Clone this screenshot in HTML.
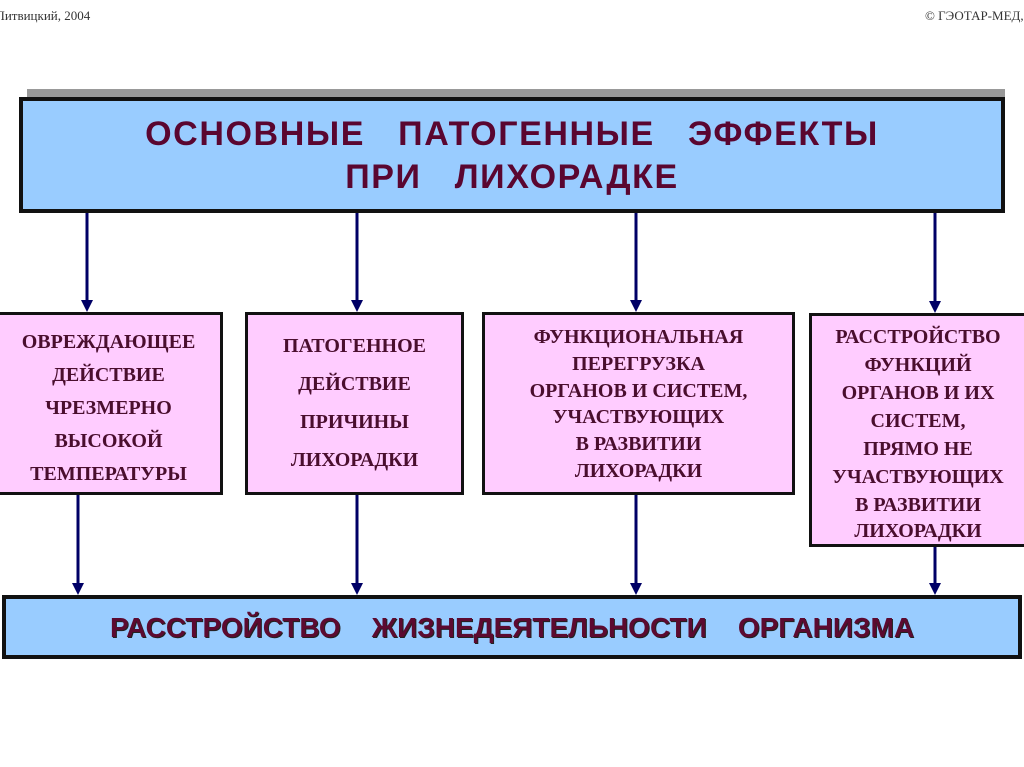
<!DOCTYPE html>
<html><head><meta charset="utf-8"><style>
body{margin:0;width:1024px;height:767px;background:#fff;position:relative;overflow:hidden;font-family:"Liberation Serif",serif}
.b{position:absolute;box-sizing:border-box;border:3px solid #111}
.p{background:#ffccff}
.l{position:absolute;left:0;right:0;text-align:center;font-weight:bold;font-size:20px;color:#4a0e2e;line-height:20px;white-space:nowrap;letter-spacing:0px}
.s{font-family:"Liberation Sans",sans-serif;font-weight:bold;color:#5c0a30;position:absolute;left:0;right:0;text-align:center;white-space:nowrap}
</style></head><body>
<div style="position:absolute;left:-4px;top:8px;font-size:13px;color:#333">Литвицкий, 2004</div>
<div style="position:absolute;left:925px;top:8px;font-size:13px;color:#333;white-space:nowrap">© ГЭОТАР-МЕД, 2004</div>

<div style="position:absolute;left:27px;top:89px;width:978px;height:10px;background:#999"></div>
<div class="b" style="left:19px;top:97px;width:986px;height:116px;background:#99ccff;border-width:4px">
 <div class="s" style="top:14px;font-size:34px;letter-spacing:1.6px;color:#5a0630">ОСНОВНЫЕ&nbsp;&nbsp; ПАТОГЕННЫЕ&nbsp;&nbsp; ЭФФЕКТЫ</div>
 <div class="s" style="top:57px;font-size:34px;letter-spacing:1.6px;color:#5a0630">ПРИ&nbsp;&nbsp; ЛИХОРАДКЕ</div>
</div>

<div class="b p" style="left:-6px;top:312px;width:229px;height:183px">
 <div class="l" style="top:17px">ОВРЕЖДАЮЩЕЕ</div>
 <div class="l" style="top:50px">ДЕЙСТВИЕ</div>
 <div class="l" style="top:83px">ЧРЕЗМЕРНО</div>
 <div class="l" style="top:116px">ВЫСОКОЙ</div>
 <div class="l" style="top:149px">ТЕМПЕРАТУРЫ</div>
</div>
<div class="b p" style="left:245px;top:312px;width:219px;height:183px">
 <div class="l" style="top:21px">ПАТОГЕННОЕ</div>
 <div class="l" style="top:59px">ДЕЙСТВИЕ</div>
 <div class="l" style="top:97px">ПРИЧИНЫ</div>
 <div class="l" style="top:135px">ЛИХОРАДКИ</div>
</div>
<div class="b p" style="left:482px;top:312px;width:313px;height:183px">
 <div class="l" style="top:12px">ФУНКЦИОНАЛЬНАЯ</div>
 <div class="l" style="top:39px">ПЕРЕГРУЗКА</div>
 <div class="l" style="top:66px">ОРГАНОВ И СИСТЕМ,</div>
 <div class="l" style="top:92px">УЧАСТВУЮЩИХ</div>
 <div class="l" style="top:119px">В РАЗВИТИИ</div>
 <div class="l" style="top:146px">ЛИХОРАДКИ</div>
</div>
<div class="b p" style="left:809px;top:313px;width:230px;height:234px">
 <div class="l" style="top:11px;padding-right:12px">РАССТРОЙСТВО</div>
 <div class="l" style="top:39px;padding-right:12px">ФУНКЦИЙ</div>
 <div class="l" style="top:67px;padding-right:12px">ОРГАНОВ И ИХ</div>
 <div class="l" style="top:95px;padding-right:12px">СИСТЕМ,</div>
 <div class="l" style="top:123px;padding-right:12px">ПРЯМО НЕ</div>
 <div class="l" style="top:151px;padding-right:12px">УЧАСТВУЮЩИХ</div>
 <div class="l" style="top:179px;padding-right:12px">В РАЗВИТИИ</div>
 <div class="l" style="top:205px;padding-right:12px">ЛИХОРАДКИ</div>
</div>

<div class="b" style="left:2px;top:595px;width:1020px;height:64px;background:#99ccff;border-width:4px">
 <div class="s" style="top:13px;font-size:28px;left:0;letter-spacing:0px;text-shadow:1px 1px 0 #222">РАССТРОЙСТВО&nbsp;&nbsp;&nbsp; ЖИЗНЕДЕЯТЕЛЬНОСТИ&nbsp;&nbsp;&nbsp; ОРГАНИЗМА</div>
</div>

<svg width="1024" height="767" style="position:absolute;left:0;top:0">
 <g stroke="#000066" stroke-width="3">
  <line x1="87" y1="213" x2="87" y2="302"/><line x1="357" y1="213" x2="357" y2="302"/>
  <line x1="636" y1="213" x2="636" y2="302"/><line x1="935" y1="213" x2="935" y2="303"/>
  <line x1="78" y1="495" x2="78" y2="585"/><line x1="357" y1="495" x2="357" y2="585"/>
  <line x1="636" y1="495" x2="636" y2="585"/><line x1="935" y1="547" x2="935" y2="585"/>
 </g>
 <g fill="#000066">
  <polygon points="81,300 93,300 87,312"/><polygon points="351,300 363,300 357,312"/>
  <polygon points="630,300 642,300 636,312"/><polygon points="929,301 941,301 935,313"/>
  <polygon points="72,583 84,583 78,595"/><polygon points="351,583 363,583 357,595"/>
  <polygon points="630,583 642,583 636,595"/><polygon points="929,583 941,583 935,595"/>
 </g>
</svg>
</body></html>
